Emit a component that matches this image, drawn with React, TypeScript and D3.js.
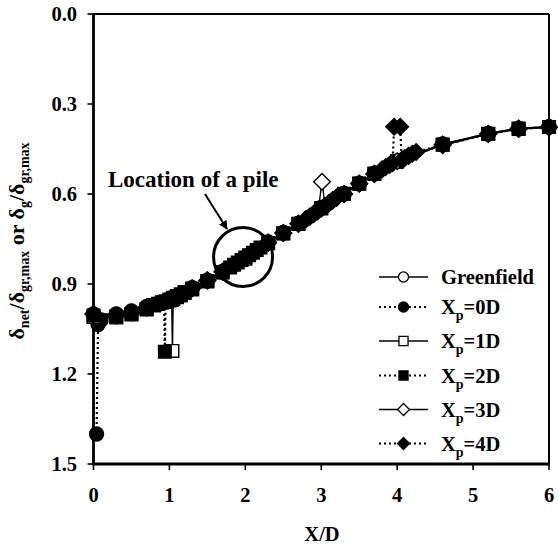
import React from 'react';
import * as d3 from 'd3';

// Axis ticks
const xTicks = [0, 1, 2, 3, 4, 5, 6];
const yTicks = [0.0, 0.3, 0.6, 0.9, 1.2, 1.5];

// Greenfield settlement profile
const greenX = [0, 0.3, 0.5, 0.7, 1.0, 1.3, 1.5, 1.7, 2.0, 2.3, 2.5, 2.7, 3.0, 3.3, 3.5, 3.7, 4.0, 4.6, 5.2, 5.6, 6.0];
const greenY = [1.0, 1.0, 0.99, 0.975, 0.95, 0.912, 0.887, 0.858, 0.812, 0.76, 0.728, 0.697, 0.645, 0.598, 0.564, 0.531, 0.49, 0.433, 0.398, 0.381, 0.376];

// Pile at Xp = 0D
const xp0X = [0.04, 0.06, 0.1, 0.3, 0.5, 0.7, 1.0, 1.3, 1.5, 1.7, 2.0, 2.3, 2.5, 2.7, 3.0, 3.3, 3.5, 3.7, 4.0, 4.6, 5.2, 5.6, 6.0];
const xp0Y = [1.4, 1.035, 1.02, 1.005, 0.995, 0.978, 0.952, 0.914, 0.889, 0.86, 0.814, 0.762, 0.73, 0.699, 0.647, 0.6, 0.566, 0.533, 0.492, 0.436, 0.4, 0.383, 0.377];

// Pile at Xp = 1D
const xp1X = [0, 0.3, 0.5, 0.7, 0.8, 0.85, 0.9, 0.95, 1.0, 1.03, 1.04, 1.05, 1.1, 1.15, 1.2, 1.3, 1.5, 1.7, 2.0, 2.3, 2.5, 2.7, 3.0, 3.3, 3.5, 3.7, 4.0, 4.6, 5.2, 5.6, 6.0];
const xp1Y = [1.01, 1.012, 1.002, 0.985, 0.972, 0.967, 0.962, 0.958, 0.955, 0.953, 1.123, 0.95, 0.944, 0.938, 0.93, 0.918, 0.892, 0.862, 0.816, 0.764, 0.732, 0.7, 0.648, 0.6, 0.566, 0.533, 0.492, 0.436, 0.4, 0.383, 0.377];

// Pile at Xp = 2D
const xp2X = [0, 0.3, 0.5, 0.7, 0.8, 0.85, 0.9, 0.93, 0.94, 0.95, 1.0, 1.05, 1.1, 1.15, 1.2, 1.3, 1.5, 1.7, 1.8, 1.85, 1.9, 1.95, 2.0, 2.05, 2.1, 2.15, 2.2, 2.3, 2.5, 2.7, 3.0, 3.3, 3.5, 3.7, 4.0, 4.6, 5.2, 5.6, 6.0];
const xp2Y = [1.005, 1.008, 1.0, 0.983, 0.97, 0.966, 0.962, 0.96, 1.126, 0.958, 0.952, 0.946, 0.94, 0.934, 0.927, 0.915, 0.89, 0.861, 0.845, 0.836, 0.828, 0.82, 0.812, 0.804, 0.796, 0.787, 0.778, 0.763, 0.731, 0.699, 0.647, 0.599, 0.565, 0.532, 0.491, 0.435, 0.399, 0.382, 0.377];

// Pile at Xp = 3D
const xp3X = [0, 0.3, 0.5, 0.7, 1.0, 1.3, 1.5, 1.7, 2.0, 2.3, 2.5, 2.7, 2.8, 2.85, 2.9, 2.96, 3.01, 3.05, 3.1, 3.15, 3.2, 3.3, 3.5, 3.7, 4.0, 4.6, 5.2, 5.6, 6.0];
const xp3Y = [1.0, 1.005, 0.995, 0.978, 0.952, 0.914, 0.888, 0.859, 0.813, 0.762, 0.73, 0.699, 0.683, 0.675, 0.666, 0.655, 0.559, 0.64, 0.63, 0.62, 0.612, 0.6, 0.565, 0.533, 0.491, 0.435, 0.399, 0.382, 0.377];

// Pile at Xp = 4D
const xp4X = [0, 0.3, 0.5, 0.7, 1.0, 1.3, 1.5, 1.7, 2.0, 2.3, 2.5, 2.7, 2.8, 2.85, 2.9, 2.95, 3.0, 3.05, 3.1, 3.15, 3.2, 3.3, 3.5, 3.7, 3.8, 3.85, 3.9, 3.94, 3.96, 4.04, 4.06, 4.1, 4.15, 4.2, 4.25, 4.6, 5.2, 5.6, 6.0];
const xp4Y = [1.0, 1.005, 0.995, 0.978, 0.952, 0.914, 0.888, 0.859, 0.813, 0.762, 0.73, 0.699, 0.684, 0.676, 0.667, 0.658, 0.649, 0.641, 0.632, 0.622, 0.613, 0.6, 0.566, 0.533, 0.518, 0.51, 0.503, 0.497, 0.376, 0.376, 0.487, 0.48, 0.473, 0.466, 0.46, 0.437, 0.4, 0.383, 0.377];

const legendSubs = ['', '0D', '1D', '2D', '3D', '4D'];

type Shape = 'circle' | 'square' | 'diamond';
interface Series {
  xs: number[];
  ys: number[];
  shape: Shape;
  filled: boolean;
  dotted: boolean;
  label: string;
}

const series: Series[] = [
  { xs: greenX, ys: greenY, shape: 'circle', filled: false, dotted: false, label: 'Greenfield' },
  { xs: xp0X, ys: xp0Y, shape: 'circle', filled: true, dotted: true, label: legendSubs[1] },
  { xs: xp1X, ys: xp1Y, shape: 'square', filled: false, dotted: false, label: legendSubs[2] },
  { xs: xp2X, ys: xp2Y, shape: 'square', filled: true, dotted: true, label: legendSubs[3] },
  { xs: xp3X, ys: xp3Y, shape: 'diamond', filled: false, dotted: false, label: legendSubs[4] },
  { xs: xp4X, ys: xp4Y, shape: 'diamond', filled: true, dotted: true, label: legendSubs[5] },
];

const W = 558;
const H = 548;
const left = 93.5;
const right = 549;
const top = 14;
const bottom = 464;

const x = d3.scaleLinear().domain([0, 6]).range([left, right]);
const y = d3.scaleLinear().domain([0, 1.5]).range([top, bottom]);

const FONT = '"Liberation Serif", "Times New Roman", serif';

function markerPath(shape: Shape, cx: number, cy: number, k: number): string {
  if (shape === 'circle') {
    const r = 7 * k;
    return `M${cx - r},${cy}a${r},${r} 0 1,0 ${2 * r},0a${r},${r} 0 1,0 ${-2 * r},0Z`;
  }
  if (shape === 'square') {
    const h = 6.3 * k;
    return `M${cx - h},${cy - h}h${2 * h}v${2 * h}h${-2 * h}Z`;
  }
  const d = 8.3 * k;
  return `M${cx},${cy - d}L${cx + d},${cy}L${cx},${cy + d}L${cx - d},${cy}Z`;
}

const lineGen = d3
  .line<[number, number]>()
  .x((d) => x(d[0]))
  .y((d) => y(d[1]));

export default function App() {
  const legendY = [277, 307, 341, 375.5, 409.5, 443.5];
  const legX0 = 379;
  const legX1 = 428;
  const legMid = 403.5;

  const pileCx = x(1.97);
  const pileCy = y(0.81);

  return (
    <svg
      width={W}
      height={H}
      style={{ position: 'absolute', left: 0, top: 0, background: '#fff' }}
      fontFamily={FONT}
      fontWeight="bold"
    >
      <defs>
        <marker id="arrowHead" viewBox="0 0 10 10" refX="9" refY="5" markerWidth="9" markerHeight="9" orient="auto" markerUnits="userSpaceOnUse">
          <path d="M0,0L10,5L0,10Z" fill="#000" />
        </marker>
      </defs>
      <rect x={0} y={0} width={W} height={H} fill="#fff" />

      {/* series lines */}
      {series.map((s, i) => (
        <path
          key={`l${i}`}
          d={lineGen(s.xs.map((v, j) => [v, s.ys[j]] as [number, number])) || ''}
          fill="none"
          stroke="#000"
          strokeWidth={s.dotted ? 2.2 : 1.4}
          strokeDasharray={s.dotted ? '2,3' : undefined}
        />
      ))}

      {/* series markers */}
      {series.map((s, i) => (
        <g key={`m${i}`}>
          {s.xs.map((v, j) => (
            <path
              key={j}
              d={markerPath(s.shape, x(v), y(s.ys[j]), 1)}
              fill={s.filled ? '#000' : '#fff'}
              stroke="#000"
              strokeWidth={1.4}
            />
          ))}
        </g>
      ))}

      {/* frame */}
      <line x1={left} x2={right} y1={top} y2={top} stroke="#000" strokeWidth={2} />
      <line x1={right} x2={right} y1={top} y2={bottom} stroke="#000" strokeWidth={2} />
      <line x1={left} x2={left} y1={top - 1} y2={bottom + 1} stroke="#000" strokeWidth={2.8} />
      <line x1={left - 1} x2={right + 1} y1={bottom} y2={bottom} stroke="#000" strokeWidth={2.8} />

      {/* y ticks */}
      {yTicks.map((t) => (
        <g key={`yt${t}`}>
          <line x1={left - 6} x2={left} y1={y(t)} y2={y(t)} stroke="#000" strokeWidth={1.6} />
          <text x={77} y={y(t) + 6.5} textAnchor="end" fontSize={20.5}>
            {d3.format('.1f')(t)}
          </text>
        </g>
      ))}

      {/* x ticks */}
      {xTicks.map((t) => (
        <g key={`xt${t}`}>
          <line x1={x(t)} x2={x(t)} y1={bottom} y2={bottom + 6} stroke="#000" strokeWidth={1.6} />
          <text x={x(t)} y={502} textAnchor="middle" fontSize={20.5}>
            {t}
          </text>
        </g>
      ))}

      {/* axis titles */}
      <text x={322} y={541} textAnchor="middle" fontSize={20.5}>
        X/D
      </text>
      <text transform={`translate(24,241) rotate(-90)`} textAnchor="middle" fontSize={22}>
        <tspan>δ</tspan>
        <tspan fontSize={14} dy={5}>net</tspan>
        <tspan dy={-5}>/δ</tspan>
        <tspan fontSize={14} dy={5}>gr,max</tspan>
        <tspan dy={-5}> or δ</tspan>
        <tspan fontSize={14} dy={5}>g</tspan>
        <tspan dy={-5}>/δ</tspan>
        <tspan fontSize={14} dy={5}>gr,max</tspan>
      </text>

      {/* pile annotation */}
      <circle cx={pileCx} cy={pileCy} r={29.5} fill="none" stroke="#000" strokeWidth={3} />
      <text x={108} y={187} fontSize={23}>
        Location of a pile
      </text>
      <line x1={205} y1={194} x2={227} y2={229} stroke="#000" strokeWidth={2} markerEnd="url(#arrowHead)" />

      {/* legend */}
      {series.map((s, i) => (
        <g key={`lg${i}`}>
          <line
            x1={legX0}
            x2={legX1}
            y1={legendY[i]}
            y2={legendY[i]}
            stroke="#000"
            strokeWidth={s.dotted ? 2.2 : 1.4}
            strokeDasharray={s.dotted ? '2,3' : undefined}
          />
          <path
            d={markerPath(s.shape, legMid, legendY[i], 0.72)}
            fill={s.filled ? '#000' : '#fff'}
            stroke="#000"
            strokeWidth={1.3}
          />
          {i === 0 ? (
            <text x={441} y={legendY[i] + 7} fontSize={20.5}>
              {s.label}
            </text>
          ) : (
            <text x={441} y={legendY[i] + 7} fontSize={20.5}>
              <tspan>X</tspan>
              <tspan fontSize={14} dy={6}>p</tspan>
              <tspan dy={-6}>={s.label}</tspan>
            </text>
          )}
        </g>
      ))}
    </svg>
  );
}
